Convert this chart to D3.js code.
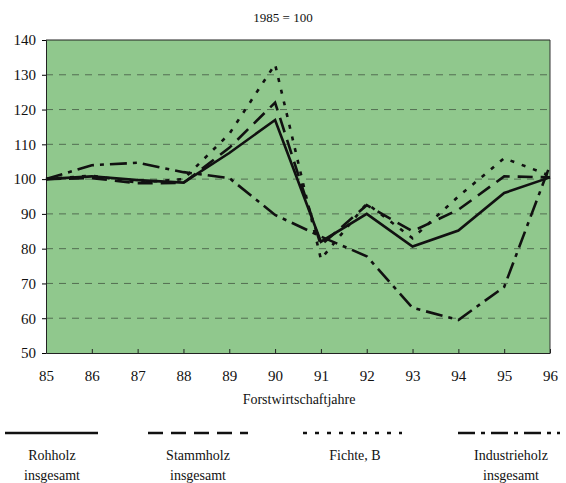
<!DOCTYPE html>
<html><head><meta charset="utf-8">
<script src="https://cdn.jsdelivr.net/npm/d3@7"></script>
<style>
html,body{margin:0;padding:0;background:#fff;}
svg text{font-family:"Liberation Serif","DejaVu Serif",serif;fill:#111;}
</style></head>
<body><svg id="c" width="566" height="483"></svg>
<script>
const years = ["85","86","87","88","89","90","91","92","93","94","95","96"];
const rohholz = [100,100.8,99.7,99,107.5,117,82,90,80.6,85.2,96,100.5];
const stammholz = [100,100.3,98.8,98.9,109,122,81,92.5,85,91.2,100.8,100.5];
const fichte = [100,101,99,100,113,133,77,93,83,95,106,101];
const industrieholz = [100,104,104.7,102,100.3,89.7,83.5,77.8,63,59.5,69,104];
const yTicks = [50,60,70,80,90,100,110,120,130,140];
const seriesNames = [["Rohholz","insgesamt"],["Stammholz","insgesamt"],["Fichte, B"],["Industrieholz","insgesamt"]];
const title = "1985 = 100";
const xTitle = "Forstwirtschaftjahre";

const series = [rohholz, stammholz, fichte, industrieholz];
const dashes = [null, "15,8", "4,8", "17,6,4,6"];

const svg = d3.select("#c");
const L = 46, R = 550, T = 40, B = 353;
const x = d3.scalePoint().domain(years).range([L, R]);
const y = d3.scaleLinear().domain([50, 140]).range([B, T]);

svg.append("rect").attr("x", L).attr("y", T).attr("width", R - L).attr("height", B - T).attr("fill", "#90c88d");

// grid
svg.append("g").selectAll("line").data(yTicks.filter(d => d > 50 && d < 140)).join("line")
  .attr("x1", L).attr("x2", R).attr("y1", d => y(d)).attr("y2", d => y(d))
  .attr("stroke", "#3a4a3a").attr("stroke-width", 1).attr("stroke-dasharray", "7,6").attr("opacity", 0.7);
svg.append("line").attr("x1", L).attr("x2", R).attr("y1", y(140)).attr("y2", y(140)).attr("stroke", "#222").attr("stroke-width", 1.2);
svg.append("line").attr("x1", R).attr("x2", R).attr("y1", T).attr("y2", B).attr("stroke", "#333").attr("stroke-width", 1);

// axes
const ya = svg.append("g").attr("transform", `translate(${L},0)`)
  .call(d3.axisLeft(y).tickValues(yTicks).tickSize(4).tickPadding(6));
ya.select(".domain").attr("stroke", "#222");
ya.selectAll("text").style("font-size", "15px").attr("fill", "#111");
const xa = svg.append("g").attr("transform", `translate(0,${B})`)
  .call(d3.axisBottom(x).tickSizeInner(-5).tickSizeOuter(0).tickPadding(17));
xa.select(".domain").attr("stroke", "#222").attr("stroke-width", 1.2);
xa.selectAll(".tick line").attr("stroke", "#222").attr("y2", -4);
xa.selectAll("text").style("font-size", "15px").attr("fill", "#111");

svg.append("text").attr("x", 283).attr("y", 22).attr("text-anchor", "middle").style("font-size", "13px").text(title);
svg.append("text").attr("x", 299).attr("y", 404).attr("text-anchor", "middle").style("font-size", "14px").text(xTitle);

// lines
const line = d3.line().x((d, i) => x(years[i])).y(d => y(d));
series.forEach((s, k) => {
  svg.append("path").datum(s).attr("d", line).attr("fill", "none")
    .attr("stroke", "#111").attr("stroke-width", 2.6)
    .attr("stroke-dasharray", dashes[k]);
});

// legend
const legX = [[5, 98], [148, 248], [303, 402], [458, 560]];
const legC = [52, 198, 355, 511];
legX.forEach((p, k) => {
  svg.append("line").attr("x1", p[0]).attr("x2", p[1]).attr("y1", 433).attr("y2", 433)
    .attr("stroke", "#111").attr("stroke-width", 2.6).attr("stroke-dasharray", dashes[k]);
  seriesNames[k].forEach((t, j) => {
    svg.append("text").attr("x", legC[k]).attr("y", 460 + j * 20).attr("text-anchor", "middle")
      .style("font-size", "14px").text(t);
  });
});
</script></body></html>
